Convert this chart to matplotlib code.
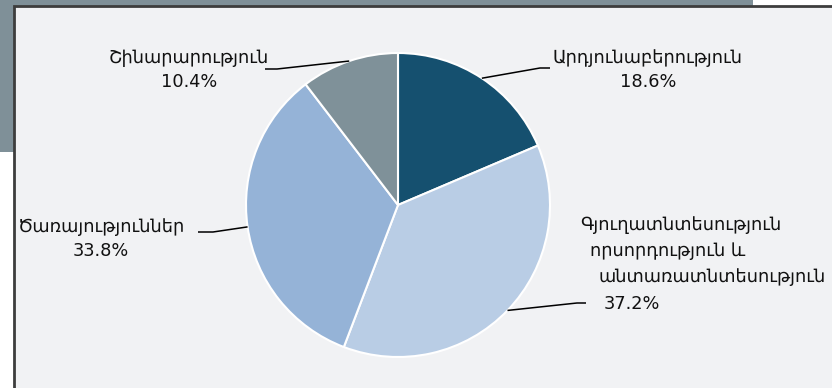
import matplotlib
matplotlib.use("Agg")
import matplotlib.pyplot as plt
from matplotlib.patches import Rectangle
import numpy as np

# Economy structure by sector
categories = [
    "Արդյունաբերություն",
    "Գյուղատնտեսություն\nորսորդություն և\nանտառատնտեսություն",
    "Ծառայություններ",
    "Շինարարություն",
]
shares = [18.6, 37.2, 33.8, 10.4]
colors = ["#15506f", "#b9cde5", "#95b3d7", "#7f9199"]

W, H = 832, 388
fig = plt.figure(figsize=(W / 100, H / 100), dpi=100)
fig.patch.set_facecolor("white")

ax = fig.add_axes([0, 0, 1, 1])
ax.patch.set_alpha(0)

def py(y):
    # pixel row (from top) -> axis y
    return H - y

cx, cy, R = 398, py(205), 152
wedges, _ = ax.pie(shares, colors=colors, startangle=90, counterclock=False,
                   center=(cx, cy), radius=R, frame=True,
                   wedgeprops=dict(edgecolor="white", linewidth=1.5, zorder=2))
ax.set_xlim(0, W)
ax.set_ylim(0, H)
ax.set_aspect("equal")
ax.axis("off")

# decorative band behind the panel (top-left)
ax.add_patch(Rectangle((0, py(152)), 753, 152 + 10, facecolor="#7f9098",
                       edgecolor="none", zorder=0, clip_on=False))
# light panel with dark left/top border
ax.add_patch(Rectangle((14, -10), W, py(6) + 10, facecolor="#f1f2f4",
                       edgecolor="#3d3d3d", linewidth=2, zorder=1,
                       clip_on=False))

FS = 12.8
FONT = ["DejaVu Sans"]

# label anchors: (text x, text y, leader bend x, leader end x, leader end y)
label_pos = [
    dict(x=648, y=70, ha="center", bend=540, end=(550, 68)),
    dict(x=580, y=225, ha="left", bend=577, end=(586, 303),
         indents=[0, 10, 19], pct_indent=24),
    dict(x=101, y=239, ha="center", bend=213, end=(198, 232)),
    dict(x=189, y=70, ha="center", bend=277, end=(265, 69)),
]

cum = 0.0
for share, name, pos in zip(shares, categories, label_pos):
    mid = np.deg2rad(90 - (cum + share / 2) * 3.6)
    cum += share
    sx, sy = cx + R * np.cos(mid), cy + R * np.sin(mid)
    ex, ey = pos["end"][0], py(pos["end"][1])
    bx = pos["bend"]
    ax.plot([sx, bx, ex], [sy, ey, ey], color="black", lw=1.1, zorder=3,
            solid_capstyle="butt")
    label = f"{share:.1f}%"
    if "indents" in pos:
        lines = name.split("\n")
        for i, (ln, ind) in enumerate(zip(lines, pos["indents"])):
            ax.text(pos["x"] + ind, py(pos["y"] + 26 * i), ln, ha="left",
                    va="center", fontsize=FS, family=FONT, color="#111111",
                    zorder=4)
        ax.text(pos["x"] + pos["pct_indent"], py(pos["y"] + 26 * len(lines) + 1),
                label, ha="left", va="center", fontsize=FS, family=FONT,
                color="#111111", zorder=4)
    else:
        ax.text(pos["x"], py(pos["y"]), f"{name}\n{label}", ha="center",
                va="center", fontsize=FS, family=FONT, color="#111111",
                linespacing=1.45, zorder=4)

fig.savefig("out.png", dpi=100, facecolor=fig.get_facecolor())
